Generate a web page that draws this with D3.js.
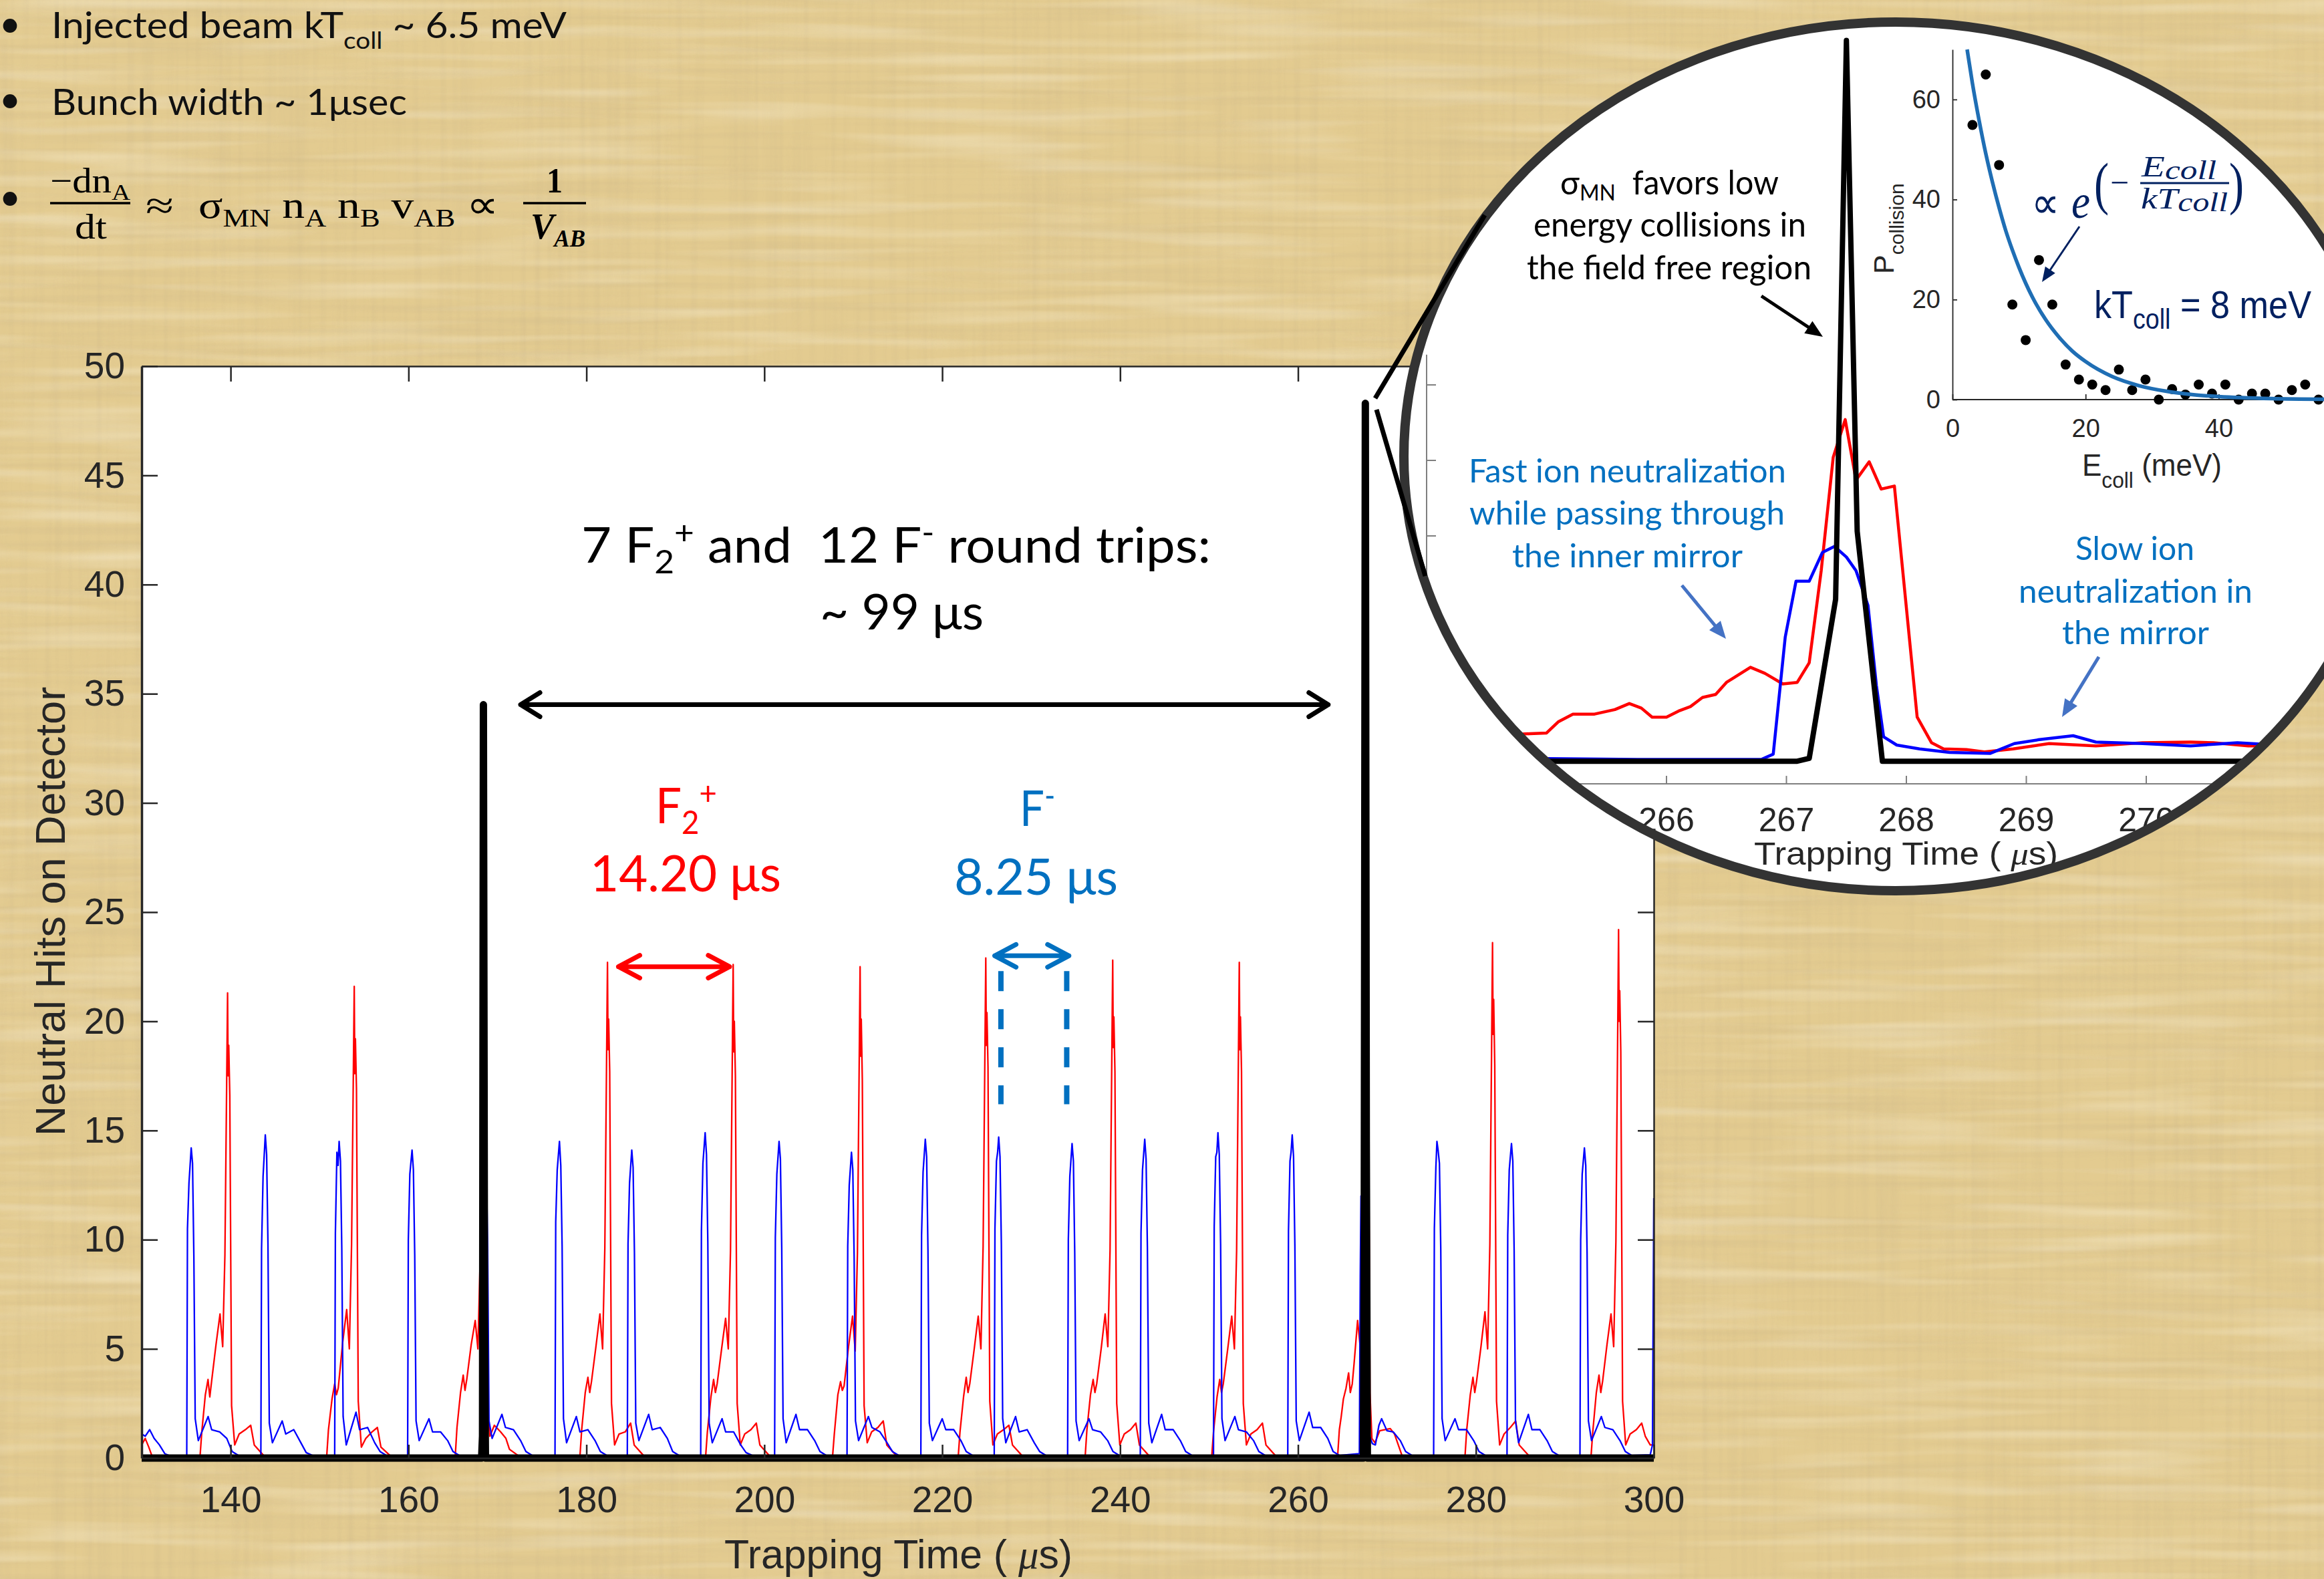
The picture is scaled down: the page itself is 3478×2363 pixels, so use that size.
<!DOCTYPE html>
<html><head><meta charset="utf-8">
<script src="https://cdn.jsdelivr.net/npm/d3@7"></script>
<style>html,body{margin:0;padding:0;background:#E3CB90;} svg{display:block} text{white-space:pre}</style>
</head><body>
<svg id="chart" width="3478" height="2363"></svg>
<script>
// ---------------- DATA ----------------
const mainTimeTicks = [140,160,180,200,220,240,260,280,300];
const mainValueTicks = [0,5,10,15,20,25,30,35,40,45,50];

// F2+ (red) neutral hits vs trapping time (us)
const redSeries = [
[130.0,0.6],[130.4,0.9],[130.8,0.5],[131.2,0.05],
[136.56,0.05],[136.76,1.2],[137.16,2.9],[137.46,3.6],[137.66,2.8],[137.86,3.5],[138.36,5.2],[138.81,6.6],[139.11,5.1],[139.36,9.3],[139.66,21.3],[139.72,17.5],[139.79,18.9],[139.91,16.6],[140.11,2.4],[140.46,0.6],[140.96,1.1],[141.66,1.3],[142.26,1.5],[142.66,0.6],[143.86,0.05],
[150.80,0.05],[151.00,1.3],[151.40,2.7],[151.70,3.4],[151.90,2.9],[152.10,3.2],[152.60,5.3],[153.05,6.8],[153.35,5.0],[153.60,9.8],[153.90,21.6],[153.96,17.6],[154.03,19.2],[154.15,16.9],[154.35,2.6],[154.70,0.5],[155.20,0.9],[155.90,1.2],[156.50,1.4],[156.90,0.5],[158.10,0.05],
[165.25,0.05],[165.45,1.4],[165.85,3.0],[166.15,3.8],[166.35,3.1],[166.55,3.6],[167.05,5.2],[167.50,6.3],[167.80,5.0],[168.05,9.0],[168.35,22.0],[168.41,18.0],[168.48,19.5],[168.60,17.0],[168.80,2.5],[169.15,1.0],[169.65,1.5],[170.35,1.2],[170.95,0.9],[171.35,0.4],[172.55,0.05],
[179.27,0.05],[179.47,1.3],[179.87,3.0],[180.17,3.7],[180.37,3.0],[180.57,3.5],[181.07,5.1],[181.52,6.6],[181.82,5.0],[182.07,9.6],[182.37,22.7],[182.43,18.7],[182.50,20.1],[182.62,17.7],[182.82,2.5],[183.17,0.6],[183.67,1.1],[184.37,1.2],[184.97,1.6],[185.37,0.6],[186.57,0.05],
[193.40,0.05],[193.60,1.2],[194.00,2.8],[194.30,3.6],[194.50,3.0],[194.70,3.4],[195.20,5.0],[195.65,6.4],[195.95,5.0],[196.20,9.5],[196.50,22.6],[196.56,18.6],[196.63,20.0],[196.75,17.5],[196.95,2.5],[197.30,0.6],[197.80,1.1],[198.50,1.3],[199.10,1.6],[199.50,0.6],[200.70,0.05],
[207.67,0.05],[207.87,1.1],[208.27,2.9],[208.57,3.5],[208.77,3.1],[208.97,3.3],[209.47,5.1],[209.92,6.5],[210.22,4.9],[210.47,9.4],[210.77,22.5],[210.83,18.4],[210.90,20.1],[211.02,17.3],[211.22,2.4],[211.57,0.7],[212.07,1.2],[212.77,1.4],[213.37,1.7],[213.77,0.6],[214.97,0.05],
[221.80,0.05],[222.00,1.2],[222.40,2.8],[222.70,3.7],[222.90,3.0],[223.10,3.4],[223.60,5.0],[224.05,6.5],[224.35,5.0],[224.60,9.7],[224.90,22.9],[224.96,18.9],[225.03,20.4],[225.15,17.9],[225.35,2.6],[225.70,0.6],[226.20,1.1],[226.90,1.3],[227.50,1.5],[227.90,0.6],[229.10,0.05],
[236.07,0.05],[236.27,1.3],[236.67,2.9],[236.97,3.6],[237.17,3.0],[237.37,3.4],[237.87,5.0],[238.32,6.6],[238.62,5.1],[238.87,9.5],[239.17,22.8],[239.23,18.8],[239.30,20.2],[239.42,17.7],[239.62,2.5],[239.97,0.6],[240.47,1.1],[241.17,1.3],[241.77,1.6],[242.17,0.6],[243.37,0.05],
[250.30,0.05],[250.50,1.2],[250.90,2.8],[251.20,3.6],[251.40,3.0],[251.60,3.4],[252.10,5.0],[252.55,6.5],[252.85,5.0],[253.10,9.5],[253.40,22.7],[253.46,18.7],[253.53,20.2],[253.65,17.7],[253.85,2.5],[254.20,0.6],[254.70,1.1],[255.40,1.3],[256.00,1.6],[256.40,0.6],[257.60,0.05],
[264.45,0.05],[264.65,1.3],[264.86,1.9],[265.10,2.7],[265.40,3.2],[265.69,3.9],[265.88,3.0],[266.10,3.4],[266.30,4.3],[266.50,5.3],[266.70,6.3],[266.97,5.2],[267.19,6.6],[267.29,12.7],[267.39,20.2],[267.49,22.7],[267.58,18.7],[267.69,19.9],[267.90,18.3],[268.09,3.0],[268.31,0.9],[268.65,0.7],[269.19,1.25],[270.37,1.35],[270.85,1.1],[271.75,0.05],
[278.77,0.05],[278.97,1.3],[279.37,2.9],[279.67,3.7],[279.87,3.0],[280.07,3.5],[280.57,5.1],[281.02,6.7],[281.32,5.0],[281.57,9.8],[281.87,23.6],[281.93,19.4],[282.00,21.0],[282.12,18.0],[282.32,2.6],[282.67,0.6],[283.17,1.1],[283.87,1.4],[284.47,1.7],[284.87,0.6],[286.07,0.05],
[292.94,0.05],[293.14,1.2],[293.54,3.0],[293.84,3.8],[294.04,3.0],[294.24,3.5],[294.74,5.2],[295.19,6.6],[295.49,5.1],[295.74,9.9],[296.04,24.2],[296.10,20.0],[296.17,21.4],[296.29,18.6],[296.49,2.6],[296.84,0.6],[297.34,1.1],[298.04,1.3],[298.64,1.6],[299.04,1.0],[299.60,0.6],[300.00,0.6]
];

// F- (blue) neutral hits vs trapping time (us)
const blueSeries = [
[130.0,1.1],[130.4,1.0],[130.9,1.3],[131.4,0.9],[132.0,0.6],[132.6,0.2],[133.2,0.1],
[135.07,0.12],[135.15,10.5],[135.32,12.6],[135.57,14.2],[135.72,13.5],[135.87,9.2],[136.02,1.8],[136.37,0.8],[137.47,1.9],[137.87,1.3],[138.77,1.2],[139.57,0.9],[140.17,0.3],[140.87,0.12],
[143.40,0.12],[143.48,9.6],[143.65,12.9],[143.90,14.8],[144.05,13.9],[144.20,9.8],[144.35,1.6],[144.70,0.7],[145.80,1.7],[146.20,1.1],[147.10,1.3],[147.90,0.7],[148.50,0.25],[149.20,0.12],
[151.70,0.12],[151.78,10.3],[151.95,14.0],[152.08,13.4],[152.20,14.5],[152.35,13.6],[152.50,9.6],[152.65,1.9],[153.00,0.6],[154.10,2.1],[154.50,1.3],[155.40,1.4],[156.20,0.7],[156.80,0.3],[157.50,0.12],
[159.90,0.12],[159.98,10.0],[160.15,13.0],[160.40,14.1],[160.55,13.2],[160.70,9.3],[160.85,1.7],[161.20,0.8],[162.30,1.8],[162.70,1.2],[163.60,1.2],[164.40,0.8],[165.00,0.3],[165.70,0.12],
[168.10,0.12],[168.18,10.0],[168.35,12.8],[168.60,14.3],[168.75,13.5],[168.90,9.5],[169.05,1.7],[169.40,0.9],[170.50,2.0],[170.90,1.4],[171.80,1.3],[172.60,0.8],[173.20,0.3],[173.90,0.12],
[176.47,0.12],[176.55,10.8],[176.72,13.2],[176.97,14.5],[177.12,13.4],[177.27,9.7],[177.42,1.8],[177.77,0.7],[178.87,1.9],[179.27,1.2],[180.17,1.3],[180.97,0.8],[181.57,0.3],[182.27,0.12],
[184.60,0.12],[184.68,9.8],[184.85,12.6],[185.10,14.1],[185.25,13.3],[185.40,9.4],[185.55,1.6],[185.90,0.8],[187.00,2.0],[187.40,1.3],[188.30,1.4],[189.10,0.9],[189.70,0.3],[190.40,0.12],
[192.85,0.12],[192.93,10.4],[193.10,13.5],[193.35,14.9],[193.50,13.9],[193.65,9.9],[193.80,1.6],[194.15,0.7],[195.25,1.8],[195.65,1.2],[196.55,1.2],[197.35,0.6],[197.95,0.25],[198.65,0.12],
[201.16,0.12],[201.24,10.1],[201.41,13.0],[201.66,14.5],[201.81,13.7],[201.96,9.6],[202.11,1.8],[202.46,0.7],[203.56,2.0],[203.96,1.3],[204.86,1.3],[205.66,0.8],[206.26,0.3],[206.96,0.12],
[209.30,0.12],[209.38,9.7],[209.55,12.5],[209.80,14.0],[209.95,13.2],[210.10,9.2],[210.25,1.7],[210.60,0.8],[211.70,1.9],[212.10,1.4],[213.00,1.2],[213.80,0.7],[214.40,0.3],[215.10,0.12],
[217.60,0.12],[217.68,10.2],[217.85,13.1],[218.10,14.6],[218.25,13.8],[218.40,9.5],[218.55,1.6],[218.90,0.8],[220.00,1.8],[220.40,1.3],[221.30,1.3],[222.10,0.8],[222.70,0.3],[223.40,0.12],
[225.85,0.12],[225.93,10.5],[226.10,13.6],[226.23,14.0],[226.35,14.7],[226.50,13.8],[226.65,9.8],[226.80,1.8],[227.15,0.7],[228.25,1.9],[228.65,1.2],[229.55,1.3],[230.35,0.7],[230.95,0.3],[231.65,0.12],
[234.10,0.12],[234.18,10.0],[234.35,12.9],[234.60,14.4],[234.75,13.6],[234.90,9.4],[235.05,1.7],[235.40,0.8],[236.50,1.8],[236.90,1.3],[237.80,1.2],[238.60,0.8],[239.20,0.3],[239.90,0.12],
[242.27,0.12],[242.35,10.3],[242.52,13.2],[242.77,14.6],[242.92,13.7],[243.07,9.6],[243.22,1.6],[243.57,0.7],[244.67,2.0],[245.07,1.3],[245.97,1.3],[246.77,0.8],[247.37,0.3],[248.07,0.12],
[250.50,0.12],[250.58,10.6],[250.75,13.8],[250.88,14.0],[251.00,14.9],[251.15,13.9],[251.30,9.8],[251.45,1.8],[251.80,0.8],[252.90,1.9],[253.30,1.3],[254.20,1.2],[255.00,0.8],[255.60,0.3],[256.30,0.12],
[258.85,0.12],[258.93,10.4],[259.10,13.6],[259.22,14.0],[259.35,14.8],[259.50,13.8],[259.65,9.7],[259.80,1.7],[260.15,0.8],[261.25,2.1],[261.65,1.4],[262.55,1.4],[263.35,0.9],[263.95,0.3],[264.65,0.12],
[266.90,0.2],[267.00,8.3],[267.08,12.0],[267.19,12.0],[267.30,13.9],[267.40,14.3],[267.50,13.6],[267.58,12.7],[267.68,10.4],[267.75,5.1],[267.81,1.7],[267.92,1.15],[268.36,0.66],[268.70,0.6],[269.10,1.5],[269.40,1.8],[270.00,1.25],[270.70,1.2],[271.50,0.8],[272.10,0.3],[272.80,0.12],
[275.25,0.12],[275.33,10.5],[275.50,13.3],[275.62,14.5],[275.75,14.1],[275.90,13.5],[276.05,9.6],[276.20,1.8],[276.55,0.8],[277.65,1.8],[278.05,1.3],[278.95,1.3],[279.75,0.8],[280.35,0.3],[281.05,0.12],
[283.50,0.12],[283.58,10.2],[283.75,13.2],[284.00,14.4],[284.15,13.6],[284.30,9.5],[284.45,1.7],[284.80,0.7],[285.90,2.0],[286.30,1.3],[287.20,1.3],[288.00,0.8],[288.60,0.3],[289.30,0.12],
[291.70,0.12],[291.78,10.0],[291.95,13.0],[292.20,14.2],[292.35,13.4],[292.50,9.4],[292.65,1.7],[293.00,0.8],[294.10,1.9],[294.50,1.4],[295.40,1.3],[296.20,0.8],[296.80,0.3],[297.50,0.12],
[299.60,0.15],[299.85,0.6],[300.00,11.9]
];

// coincident (black) signal
const blackSeries = [[130,0],[168.22,0],[168.32,1.0],[168.42,34.5],[168.55,6.0],[168.65,0],[267.35,0],[267.45,10.5],[267.57,48.3],[267.68,14.5],[267.80,0],[300,0]];

// annotation spans (time, value)
const roundTripSpan = [172.6, 263.4], roundTripLevel = 34.5;
const redPeriodSpan = [183.6, 196.1], redPeriodLevel = 22.5;
const bluePeriodSpan = [225.9, 234.25], bluePeriodLevel = 23.0;
const blueMarkerTimes = [226.6, 234.0], blueMarkerRange = [22.3, 16.2];

// zoomed inset (magnifier)
const insetTimeTicks = [264,265,266,267,268,269,270,271];
const insetValueTicks = [0,5,10,15,20,25];
const insetRed = [[264.0,1.6],[264.86,1.9],[265.0,1.95],[265.1,2.7],[265.22,3.2],[265.4,3.2],[265.57,3.5],[265.69,3.9],[265.79,3.6],[265.88,3.0],[266.0,3.0],[266.1,3.4],[266.2,3.7],[266.3,4.3],[266.41,4.5],[266.5,5.3],[266.7,6.3],[266.82,5.9],[266.97,5.2],[267.09,5.3],[267.19,6.6],[267.29,12.7],[267.39,20.2],[267.49,22.7],[267.58,18.7],[267.69,19.9],[267.79,18.1],[267.9,18.3],[268.09,3.0],[268.21,1.3],[268.31,0.9],[268.5,0.85],[268.65,0.7],[268.89,0.9],[269.19,1.25],[269.58,1.1],[269.97,1.3],[270.37,1.35],[270.56,1.3],[270.85,1.1],[271.0,1.1]];
const insetBlue = [[264.0,0.25],[264.86,0.27],[265.76,0.2],[266.79,0.2],[266.89,0.55],[266.99,8.3],[267.08,12.0],[267.19,12.0],[267.3,13.9],[267.4,14.3],[267.5,13.6],[267.58,12.7],[267.68,10.4],[267.75,5.1],[267.81,1.7],[267.92,1.15],[268.11,0.9],[268.36,0.66],[268.7,0.6],[268.9,1.25],[269.1,1.5],[269.39,1.77],[269.58,1.35],[269.97,1.25],[270.37,1.1],[270.76,1.3],[271.0,1.2]];
const insetBlack = [[264.0,0.08],[267.09,0.08],[267.19,0.27],[267.41,10.8],[267.5,47.8],[267.59,15.3],[267.8,0.08],[271.0,0.08]];

// collision probability vs collision energy
const collisionEnergy = [3,5,7,9,11,13,15,17,19,21,23,25,27,29,31,33,35,37,39,41,43,45,47,49,51,53,55];
const collisionProb   = [54.9,65.0,46.9,19.0,11.9,27.9,19.0,7.0,4.0,3.0,1.9,6.0,1.9,4.0,0,2.1,1.0,3.0,1.2,3.0,0,1.2,1.2,0,1.9,3.0,0];
const fitEnergy = [2.2,3,4,5,6,7,8,9,10,12,14,16,18,20,24,28,32,36,40,48,56,60];
const fitProb   = [70,63.2,55.8,49.2,43.5,38.4,33.8,29.9,26.4,20.5,16.0,12.5,9.7,7.6,4.6,2.8,1.7,1.0,0.6,0.2,0.07,0.05];
const scatterXTicks = [0,20,40];
const scatterYTicks = [0,20,40,60];

// ---------------- DRAWING ----------------
const W = 3478, H = 2363;
const svg = d3.select('#chart');
const defs = svg.append('defs');

function grain(id, freq, seed, rgb, a, b) {
  const f = defs.append('filter').attr('id', id).attr('filterUnits','userSpaceOnUse')
    .attr('x',0).attr('y',0).attr('width',W).attr('height',H);
  f.append('feTurbulence').attr('type','fractalNoise').attr('baseFrequency',freq)
    .attr('numOctaves',2).attr('seed',seed).attr('result','n');
  f.append('feColorMatrix').attr('in','n').attr('type','matrix')
    .attr('values',`0 0 0 0 ${rgb[0]}  0 0 0 0 ${rgb[1]}  0 0 0 0 ${rgb[2]}  ${a} 0 0 0 ${b}`);
}
grain('gB','0.005 0.005',11,[0.78,0.62,0.32],1.3,-0.5);
grain('gH','0.002 0.09',3,[0.6,0.47,0.25],1.6,-0.72);
grain('gV','0.09 0.002',8,[0.6,0.47,0.25],1.6,-0.72);
grain('gL','0.003 0.05',5,[1,0.97,0.85],1.6,-0.74);

svg.append('rect').attr('width',W).attr('height',H).attr('fill','#E3CB90');
[['gB',0.3],['gH',0.4],['gV',0.35],['gL',0.45]].forEach(([id,op]) =>
  svg.append('rect').attr('width',W).attr('height',H).attr('filter',`url(#${id})`).attr('opacity',op));

// rich text helper
function rich(parent, parts, o) {
  const t = parent.append('text').attr('x', o.x).attr('y', o.y)
    .attr('font-family', o.family || 'Lato').attr('font-size', o.size)
    .attr('fill', o.fill || '#000');
  if (o.anchor) t.attr('text-anchor', o.anchor);
  if (o.style) t.attr('font-style', o.style);
  if (o.weight) t.attr('font-weight', o.weight);
  let shift = 0;
  parts.forEach(p => {
    const s = (typeof p === 'string') ? {t: p} : p;
    const target = s.sub ? o.size * (s.shift || 0.22) : (s.sup ? -o.size * (s.shift || 0.38) : 0);
    const ts = t.append('tspan').text(s.t).attr('dy', target - shift);
    if (s.sub || s.sup) ts.attr('font-size', o.size * (s.scale || 0.66));
    if (s.style) ts.attr('font-style', s.style);
    if (s.family) ts.attr('font-family', s.family);
    if (s.weight) ts.attr('font-weight', s.weight);
    shift = target;
  });
  if (o.width) t.attr('textLength', o.width).attr('lengthAdjust', 'spacingAndGlyphs');
  if (o.transform) t.attr('transform', o.transform);
  return t;
}
function arrow(g, x1, y1, x2, y2, color, w, hl, hw) {
  const dx = x2-x1, dy = y2-y1, L = Math.hypot(dx,dy), ux = dx/L, uy = dy/L;
  const bx = x2-ux*hl, by = y2-uy*hl;
  g.append('line').attr('x1',x1).attr('y1',y1).attr('x2',bx+ux*3).attr('y2',by+uy*3)
    .attr('stroke',color).attr('stroke-width',w);
  g.append('path').attr('d',`M${x2},${y2}L${bx-uy*hw},${by+ux*hw}L${bx+uy*hw},${by-ux*hw}Z`).attr('fill',color);
}
function dblArrow(g, x1, x2, yy, color, w, ax, ay) {
  g.append('path')
    .attr('d',`M${x1},${yy}H${x2}M${x1+ax},${yy-ay}L${x1},${yy}L${x1+ax},${yy+ay}M${x2-ax},${yy-ay}L${x2},${yy}L${x2-ax},${yy+ay}`)
    .attr('fill','none').attr('stroke',color).attr('stroke-width',w)
    .attr('stroke-linecap','round').attr('stroke-linejoin','round');
}

// ---- top-left bullets ----
const tl = svg.append('g');
[55, 168, 314].forEach(yb => tl.append('text').attr('x',15).attr('y',yb).attr('text-anchor','middle')
  .attr('font-family','Lato').attr('font-size',56).attr('fill','#111').text('•'));
rich(tl, ['Injected beam kT', {t:'coll', sub:true, shift:0.3}, ' ~ 6.5 meV'], {x:77, y:57, size:54, width:771, fill:'#111'});
rich(tl, ['Bunch width ~ 1μsec'], {x:77, y:172, size:54, width:532, fill:'#111'});
const serif = 'Liberation Serif';
rich(tl, ['−dn', {t:'A', sub:true}], {x:75, y:288, size:52, family:serif, width:120});
tl.append('line').attr('x1',75).attr('x2',195).attr('y1',304).attr('y2',304).attr('stroke','#000').attr('stroke-width',3.5);
rich(tl, ['dt'], {x:112, y:357, size:52, family:serif, width:48});
rich(tl, ['≈'], {x:218, y:327, size:58, family:serif, width:42});
rich(tl, ['σ', {t:'MN', sub:true}, ' n', {t:'A', sub:true}, ' n', {t:'B', sub:true}, ' v', {t:'AB', sub:true}, ' ∝'],
  {x:297, y:326, size:58, family:serif, width:449});
rich(tl, ['1'], {x:818, y:288, size:52, family:serif, weight:'bold', width:24});
tl.append('line').attr('x1',783).attr('x2',877).attr('y1',304).attr('y2',304).attr('stroke','#000').attr('stroke-width',3.5);
rich(tl, ['V', {t:'AB', sub:true}], {x:794, y:357, size:54, family:serif, weight:'bold', style:'italic', width:82});

// ---- main plot ----
const x = d3.scaleLinear().domain([130,300]).range([212,2475]);
const y = d3.scaleLinear().domain([0,50]).range([2182,548]);
const main = svg.append('g');
main.append('rect').attr('x',x(130)).attr('y',y(50)).attr('width',x(300)-x(130)).attr('height',y(0)-y(50)).attr('fill','#fff');
defs.append('clipPath').attr('id','plotClip').append('rect')
  .attr('x',x(130)).attr('y',y(50)-10).attr('width',x(300)-x(130)+2).attr('height',y(0)-y(50)+30);
const line = d3.line().x(d => x(d[0])).y(d => y(d[1]));
const series = main.append('g').attr('clip-path','url(#plotClip)');
series.append('path').datum(redSeries).attr('d',line).attr('fill','none').attr('stroke','#FF0000').attr('stroke-width',2.3).attr('stroke-linejoin','round');
series.append('path').datum(blueSeries).attr('d',line).attr('fill','none').attr('stroke','#0000FF').attr('stroke-width',2.3).attr('stroke-linejoin','round');
series.append('path').datum(blackSeries).attr('d',line).attr('fill','none').attr('stroke','#000').attr('stroke-width',11).attr('stroke-linejoin','round');

const axCol = '#262626';
function styleAxis(g, w) {
  g.selectAll('path.domain').attr('stroke',axCol).attr('stroke-width',w);
  g.selectAll('.tick line').attr('stroke',axCol).attr('stroke-width',2.5);
  g.selectAll('.tick text').attr('fill',axCol).attr('font-family','Liberation Sans');
}
const gl = main.append('g').attr('transform',`translate(${x(130)},0)`)
  .call(d3.axisLeft(y).tickValues(mainValueTicks).tickSize(-24).tickSizeOuter(0).tickPadding(25));
styleAxis(gl, 3.5); gl.selectAll('.tick text').attr('font-size',55);
const gr = main.append('g').attr('transform',`translate(${x(300)},0)`)
  .call(d3.axisRight(y).tickValues(mainValueTicks).tickSize(-24).tickSizeOuter(0).tickFormat(''));
styleAxis(gr, 2.5);
const gt = main.append('g').attr('transform',`translate(0,${y(50)})`)
  .call(d3.axisTop(x).tickValues(mainTimeTicks).tickSize(-23).tickSizeOuter(0).tickFormat(''));
styleAxis(gt, 2.5);
const gb = main.append('g').attr('transform',`translate(0,${y(0)})`)
  .call(d3.axisBottom(x).tickValues(mainTimeTicks).tickSize(-20).tickSizeOuter(0).tickPadding(42));
styleAxis(gb, 2.5); gb.selectAll('.tick text').attr('font-size',55);

rich(main, ['Trapping Time ( ', {t:'μ', style:'italic', family:serif}, 's)'],
  {x:1084, y:2347, size:61, family:'Liberation Sans', fill:axCol, width:521});
rich(main, ['Neutral Hits on Detector'],
  {x:0, y:0, size:63, family:'Liberation Sans', fill:axCol, anchor:'middle', transform:'translate(97,1364) rotate(-90)'});

// annotations
const ann = main.append('g');
rich(ann, ['7 F', {t:'2', sub:true}, {t:'+', sup:true}, ' and  12 F', {t:'-', sup:true}, ' round trips:'],
  {x:870, y:842, size:74, width:942});
rich(ann, ['~ 99 μs'], {x:1227, y:942, size:74, width:245});
dblArrow(ann, x(roundTripSpan[0]), x(roundTripSpan[1]), y(roundTripLevel), '#000', 7, 29, 18);
rich(ann, ['F', {t:'2', sub:true}, {t:'+', sup:true}], {x:981, y:1232, size:74, fill:'#FF0000', width:92});
rich(ann, ['14.20 μs'], {x:883, y:1334, size:76, fill:'#FF0000', width:286});
dblArrow(ann, x(redPeriodSpan[0]), x(redPeriodSpan[1]), y(redPeriodLevel), '#FF0000', 7, 32, 17);
rich(ann, ['F', {t:'-', sup:true}], {x:1526, y:1236, size:74, fill:'#0070C0', width:53});
rich(ann, ['8.25 μs'], {x:1428, y:1339, size:76, fill:'#0070C0', width:245});
dblArrow(ann, x(bluePeriodSpan[0]), x(bluePeriodSpan[1]), y(bluePeriodLevel), '#0070C0', 7, 32, 17);
blueMarkerTimes.forEach(t => ann.append('line').attr('x1',x(t)).attr('x2',x(t))
  .attr('y1',y(blueMarkerRange[0])).attr('y2',y(blueMarkerRange[1]))
  .attr('stroke','#0070C0').attr('stroke-width',8).attr('stroke-dasharray','30 27'));

// ---- magnifier lens ----
const E = {cx:2837, cy:683, rx:736, ry:650};
defs.append('clipPath').attr('id','lens').append('ellipse')
  .attr('cx',E.cx).attr('cy',E.cy).attr('rx',E.rx).attr('ry',E.ry);
svg.append('ellipse').attr('cx',E.cx).attr('cy',E.cy).attr('rx',E.rx).attr('ry',E.ry).attr('fill','#fff');
const lens = svg.append('g').attr('clip-path','url(#lens)');

// inset time plot
const ix = d3.scaleLinear().domain([264,271]).range([2135,3391.5]);
const iy = d3.scaleLinear().domain([0,48]).range([1141,56]);
const iline = d3.line().x(d => ix(d[0])).y(d => iy(d[1]));
const gray = '#7F7F7F';
lens.append('line').attr('x1',ix(264)).attr('x2',ix(264)).attr('y1',iy(27)).attr('y2',iy(-1.42)).attr('stroke',gray).attr('stroke-width',2);
lens.append('line').attr('x1',ix(264)).attr('x2',3478).attr('y1',iy(-1.42)).attr('y2',iy(-1.42)).attr('stroke',gray).attr('stroke-width',2);
insetValueTicks.forEach(v => lens.append('line').attr('x1',ix(264)).attr('x2',ix(264)+14).attr('y1',iy(v)).attr('y2',iy(v)).attr('stroke',gray).attr('stroke-width',2));
insetTimeTicks.forEach(t => {
  lens.append('line').attr('x1',ix(t)).attr('x2',ix(t)).attr('y1',iy(-1.42)).attr('y2',iy(-1.42)-12).attr('stroke',gray).attr('stroke-width',2);
  lens.append('text').attr('x',ix(t)).attr('y',1244).attr('text-anchor','middle').attr('font-family','Liberation Sans')
    .attr('font-size',50).attr('fill',axCol).text(t);
});
rich(lens, ['Trapping Time ( ', {t:'μ', style:'italic', family:serif}, 's)'],
  {x:2625, y:1294, size:48, family:'Liberation Sans', fill:axCol, width:455});
lens.append('path').datum(insetRed).attr('d',iline).attr('fill','none').attr('stroke','#FF0000').attr('stroke-width',4.5).attr('stroke-linejoin','round');
lens.append('path').datum(insetBlue).attr('d',iline).attr('fill','none').attr('stroke','#0000FF').attr('stroke-width',4.5).attr('stroke-linejoin','round');
lens.append('path').datum(insetBlack).attr('d',iline).attr('fill','none').attr('stroke','#000').attr('stroke-width',8).attr('stroke-linejoin','round');

// inset texts
rich(lens, ['σ', {t:'MN', sub:true, shift:0.18}, '  favors low'], {x:2335, y:291, size:50, width:327});
rich(lens, ['energy collisions in'], {x:2295, y:354, size:50, width:408});
rich(lens, ['the field free region'], {x:2285, y:418, size:50, width:426});
arrow(lens, 2636, 443, 2728, 504, '#000', 5, 26, 11);
const fb = '#0070C0';
rich(lens, ['Fast ion neutralization'], {x:2198, y:722, size:49, fill:fb, width:475});
rich(lens, ['while passing through'], {x:2199, y:785, size:49, fill:fb, width:472});
rich(lens, ['the inner mirror'], {x:2263, y:849, size:49, fill:fb, width:345});
rich(lens, ['Slow ion'], {x:3106, y:838, size:49, fill:fb, width:178});
rich(lens, ['neutralization in'], {x:3021, y:902, size:49, fill:fb, width:350});
rich(lens, ['the mirror'], {x:3086, y:964, size:49, fill:fb, width:220});
arrow(lens, 2517, 876, 2583, 956, '#4472C4', 5, 26, 11);
arrow(lens, 3141, 983, 3086, 1073, '#4472C4', 5, 26, 11);

// scatter inset
const sx = d3.scaleLinear().domain([0,60]).range([2922, 2922+597.6]);
const sy = d3.scaleLinear().domain([0,70]).range([598, 74]);
const sc = lens.append('g');
const sgl = sc.append('g').attr('transform',`translate(${sx(0)},0)`)
  .call(d3.axisLeft(sy).tickValues(scatterYTicks).tickSize(-7).tickSizeOuter(0).tickPadding(18));
const sgb = sc.append('g').attr('transform',`translate(0,${sy(0)})`)
  .call(d3.axisBottom(sx).tickValues(scatterXTicks).tickSize(-8).tickSizeOuter(0).tickPadding(29));
[sgl, sgb].forEach(g => {
  g.selectAll('path.domain').attr('stroke',axCol).attr('stroke-width',1.8);
  g.selectAll('.tick line').attr('stroke',axCol).attr('stroke-width',1.8);
  g.selectAll('.tick text').attr('fill',axCol).attr('font-family','Liberation Sans').attr('font-size',38);
});
sgb.select('path.domain').attr('d',`M${sx(0)},0H3478`);
sc.selectAll('circle.dot').data(collisionEnergy).enter().append('circle').attr('class','dot')
  .attr('cx', d => sx(d)).attr('cy', (d,i) => sy(collisionProb[i])).attr('r',7.5).attr('fill','#000');
const fitLine = d3.line().x((d,i) => sx(d)).y((d,i) => sy(fitProb[i])).curve(d3.curveMonotoneX);
sc.append('path').datum(fitEnergy).attr('d',fitLine).attr('fill','none').attr('stroke','#1F6EB4').attr('stroke-width',5.5);
rich(sc, ['E', {t:'coll', sub:true, shift:0.4, scale:0.72}, ' (meV)'], {x:3116, y:712, size:46, family:'Liberation Sans', fill:axCol, width:209});
rich(sc, ['P', {t:'collision', sub:true, shift:0.35, scale:0.7}], {x:0, y:0, size:43, family:'Liberation Sans', fill:axCol, transform:'translate(2834,410) rotate(-90)'});
const navy = '#002060';
rich(sc, ['kT', {t:'coll', sub:true, shift:0.28, scale:0.72}, ' = 8 meV'], {x:3134, y:476, size:58, family:'Liberation Sans', fill:navy, width:325});
rich(sc, ['∝'], {x:3040, y:326, size:66, family:serif, fill:navy, width:42});
rich(sc, ['e'], {x:3100, y:326, size:72, family:serif, style:'italic', fill:navy, width:28});
rich(sc, ['('], {x:3134, y:304, size:86, family:serif, fill:navy, width:22});
rich(sc, ['−'], {x:3158, y:290, size:50, family:serif, fill:navy, width:28});
rich(sc, ['E', {t:'coll', sub:true, shift:0.1, scale:0.9}], {x:3205, y:264, size:44, family:serif, style:'italic', fill:navy, width:112});
sc.append('line').attr('x1',3203).attr('x2',3336).attr('y1',274).attr('y2',274).attr('stroke',navy).attr('stroke-width',3);
rich(sc, ['kT', {t:'coll', sub:true, shift:0.1, scale:0.9}], {x:3204, y:312, size:44, family:serif, style:'italic', fill:navy, width:130});
rich(sc, [')'], {x:3336, y:304, size:86, family:serif, fill:navy, width:22});
arrow(sc, 3112, 339, 3056, 422, navy, 3, 22, 9);

// lens rim
svg.append('ellipse').attr('cx',E.cx).attr('cy',E.cy).attr('rx',E.rx).attr('ry',E.ry)
  .attr('fill','none').attr('stroke','#333').attr('stroke-width',14);

// connector lines from the coincidence peak to the lens
svg.append('line').attr('x1',2058).attr('y1',596).attr('x2',2222).attr('y2',322).attr('stroke','#000').attr('stroke-width',7);
svg.append('line').attr('x1',2060).attr('y1',613).attr('x2',2133).attr('y2',862).attr('stroke','#000').attr('stroke-width',7);
</script>
</body></html>
